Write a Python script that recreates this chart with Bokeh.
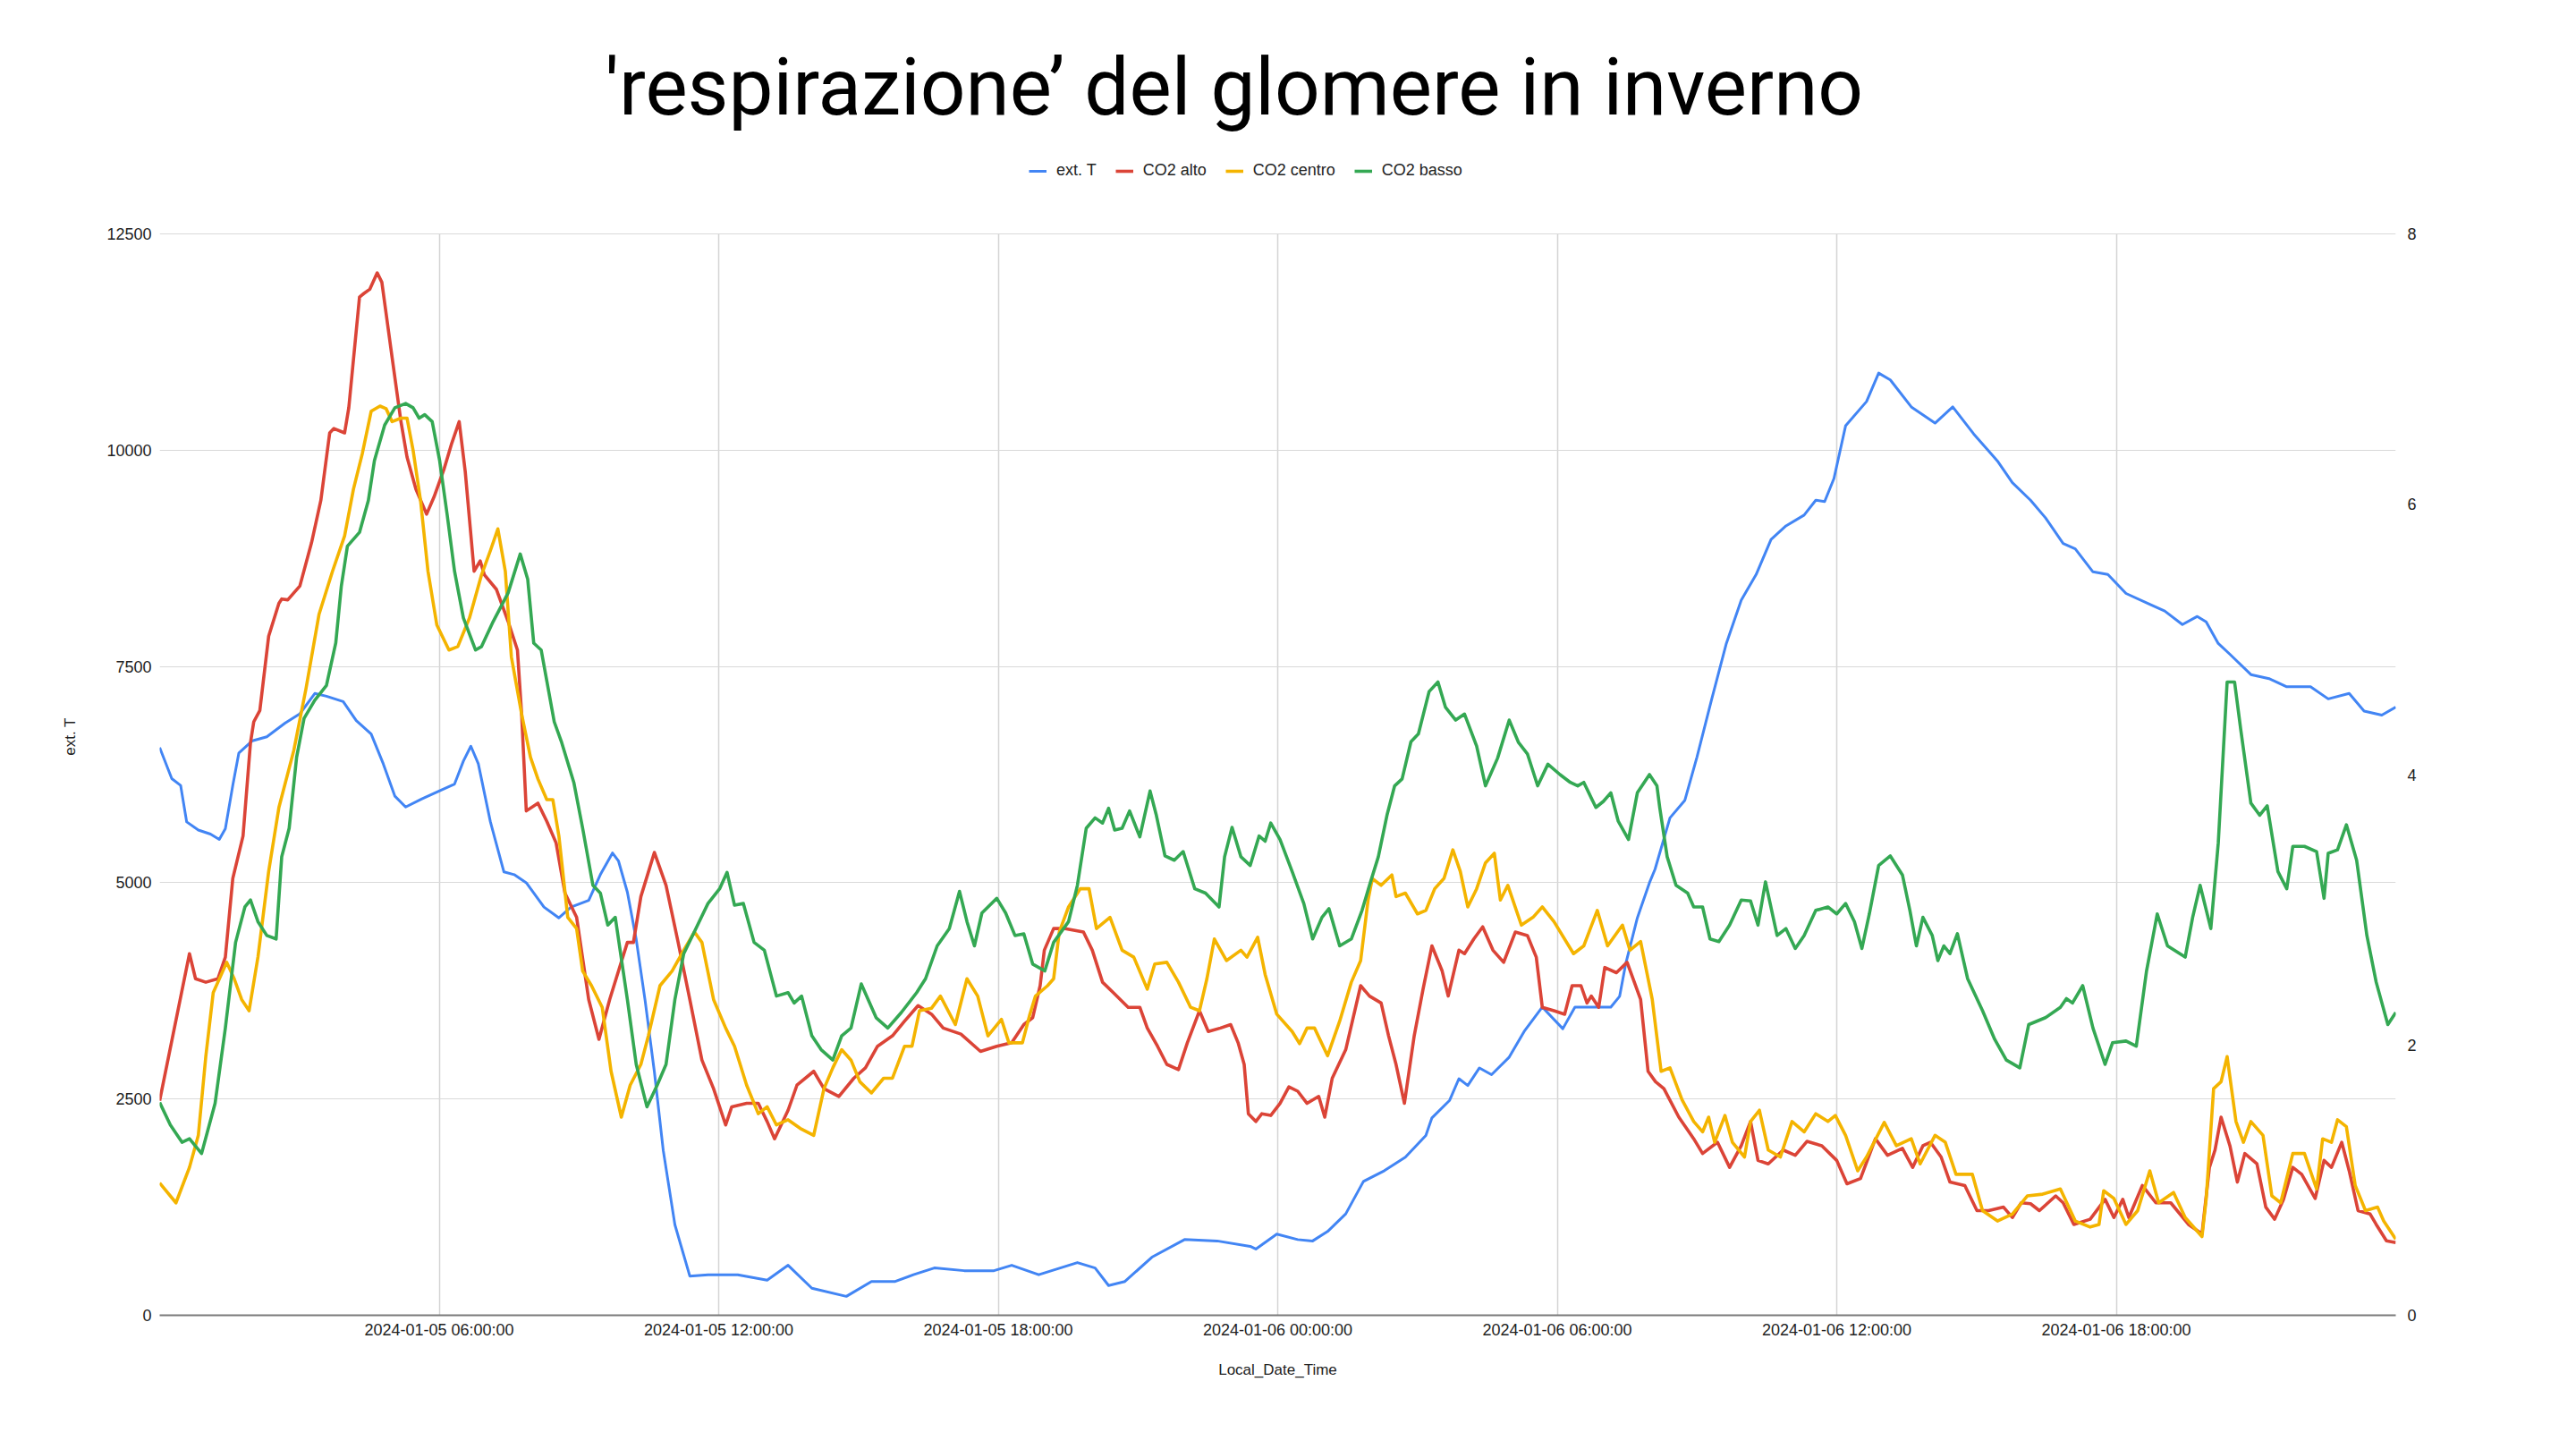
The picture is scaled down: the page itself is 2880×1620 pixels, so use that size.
from bokeh.plotting import figure
from bokeh.models import (Range1d, LinearAxis, FixedTicker, Legend, LegendItem,
                          ColumnDataSource)
from bokeh.embed import file_html
from bokeh.resources import INLINE

TITLE = "'respirazione’ del glomere in inverno"
SERIES = ["ext. T", "CO2 alto", "CO2 centro", "CO2 basso"]
COLORS = ["#4285F4", "#DB4437", "#F4B400", "#34A853"]
X_TITLE = "Local_Date_Time"
Y_TITLE = "ext. T"
X_TICK_HOURS = [6, 12, 18, 24, 30, 36, 42]
X_TICK_LABELS = ["2024-01-05 06:00:00", "2024-01-05 12:00:00", "2024-01-05 18:00:00",
                 "2024-01-06 00:00:00", "2024-01-06 06:00:00", "2024-01-06 12:00:00",
                 "2024-01-06 18:00:00"]
CO2_TICKS = [0, 2500, 5000, 7500, 10000, 12500]
TEMP_TICKS = [0, 2, 4, 6, 8]
CO2_MAX = 12500
TEMP_MAX = 8
HOURS = 48

# (hours since 2024-01-05 00:00, value)
ext_t = [(0.0, 4.20), (0.26, 3.97), (0.45, 3.92), (0.58, 3.65), (0.83, 3.59), (1.09, 3.56),
         (1.28, 3.52), (1.41, 3.60), (1.57, 3.92), (1.70, 4.16), (1.99, 4.25), (2.30, 4.28),
         (2.69, 4.38), (3.01, 4.45), (3.33, 4.60), (3.58, 4.58), (3.94, 4.54), (4.22, 4.40),
         (4.54, 4.30), (4.80, 4.08), (5.05, 3.84), (5.28, 3.76), (5.63, 3.82), (6.01, 3.88),
         (6.33, 3.93), (6.52, 4.10), (6.68, 4.21), (6.84, 4.08), (7.10, 3.65), (7.39, 3.28),
         (7.61, 3.26), (7.87, 3.20), (8.25, 3.02), (8.57, 2.94), (8.83, 3.02), (9.21, 3.07),
         (9.46, 3.26), (9.72, 3.42), (9.85, 3.36), (10.04, 3.13), (10.23, 2.78), (10.42, 2.33),
         (10.62, 1.80), (10.81, 1.22), (11.06, 0.67), (11.38, 0.29), (11.77, 0.30), (12.41, 0.30),
         (13.04, 0.26), (13.49, 0.37), (14.00, 0.20), (14.74, 0.14), (15.28, 0.25), (15.79, 0.25),
         (16.18, 0.30), (16.63, 0.35), (17.27, 0.33), (17.91, 0.33), (18.29, 0.37), (18.87, 0.30),
         (19.70, 0.39), (20.08, 0.35), (20.37, 0.22), (20.72, 0.25), (21.30, 0.43), (22.00, 0.56),
         (22.70, 0.55), (23.41, 0.51), (23.53, 0.49), (23.98, 0.60), (24.43, 0.56), (24.75, 0.55),
         (25.07, 0.62), (25.46, 0.75), (25.84, 0.99), (26.29, 1.07), (26.74, 1.17), (27.18, 1.33),
         (27.31, 1.46), (27.69, 1.59), (27.89, 1.75), (28.08, 1.70), (28.33, 1.83), (28.59, 1.78),
         (28.97, 1.91), (29.29, 2.10), (29.68, 2.28), (30.12, 2.12), (30.38, 2.28), (30.76, 2.28),
         (31.15, 2.28), (31.34, 2.36), (31.47, 2.60), (31.72, 2.94), (31.98, 3.20), (32.10, 3.30),
         (32.42, 3.68), (32.74, 3.81), (33.00, 4.13), (33.31, 4.55), (33.63, 4.97), (33.95, 5.29),
         (34.27, 5.48), (34.59, 5.74), (34.91, 5.84), (35.30, 5.92), (35.55, 6.03), (35.74, 6.02),
         (35.94, 6.19), (36.19, 6.58), (36.64, 6.76), (36.90, 6.97), (37.15, 6.92), (37.60, 6.72),
         (38.11, 6.60), (38.49, 6.72), (38.94, 6.52), (39.45, 6.32), (39.77, 6.16), (40.16, 6.03),
         (40.48, 5.90), (40.86, 5.71), (41.12, 5.67), (41.50, 5.50), (41.82, 5.48), (42.21, 5.34),
         (42.72, 5.26), (43.04, 5.21), (43.42, 5.11), (43.74, 5.17), (43.93, 5.13), (44.19, 4.97),
         (44.44, 4.89), (44.89, 4.74), (45.28, 4.71), (45.66, 4.65), (46.17, 4.65), (46.55, 4.56),
         (47.00, 4.60), (47.32, 4.47), (47.70, 4.44), (48.0, 4.50)]

co2_alto = [(0.0, 2480), (0.64, 4180), (0.77, 3890), (0.99, 3850), (1.25, 3890), (1.41, 4140),
            (1.57, 5050), (1.79, 5540), (1.95, 6620), (2.02, 6860), (2.15, 6990), (2.34, 7850),
            (2.56, 8230), (2.62, 8280), (2.75, 8270), (3.01, 8430), (3.26, 8930), (3.46, 9420),
            (3.65, 10200), (3.74, 10250), (3.97, 10200), (4.06, 10490), (4.29, 11770), (4.38, 11810),
            (4.51, 11860), (4.67, 12050), (4.77, 11940), (4.99, 11070), (5.18, 10330), (5.31, 9920),
            (5.50, 9550), (5.73, 9260), (5.89, 9460), (6.11, 9790), (6.27, 10080), (6.43, 10330),
            (6.56, 9750), (6.75, 8600), (6.88, 8720), (6.97, 8560), (7.23, 8390), (7.48, 8020),
            (7.68, 7690), (7.77, 6950), (7.87, 5830), (8.12, 5920), (8.31, 5710), (8.51, 5460),
            (8.70, 4880), (8.95, 4600), (9.21, 3650), (9.43, 3190), (9.66, 3650), (9.85, 3980),
            (10.04, 4310), (10.17, 4310), (10.33, 4840), (10.62, 5350), (10.87, 4970), (11.13, 4310),
            (11.38, 3650), (11.64, 2950), (11.89, 2620), (12.15, 2200), (12.28, 2410), (12.60, 2450),
            (12.85, 2450), (13.04, 2240), (13.20, 2040), (13.49, 2370), (13.68, 2660), (14.04, 2820),
            (14.26, 2620), (14.58, 2530), (14.90, 2740), (15.15, 2860), (15.41, 3110), (15.73, 3230),
            (15.99, 3400), (16.28, 3580), (16.57, 3480), (16.82, 3320), (17.20, 3250), (17.62, 3050),
            (17.97, 3110), (18.29, 3150), (18.55, 3360), (18.74, 3440), (18.90, 3810), (18.99, 4220),
            (19.19, 4470), (19.44, 4470), (19.83, 4430), (20.02, 4220), (20.24, 3850), (20.47, 3730),
            (20.79, 3560), (21.04, 3560), (21.20, 3320), (21.42, 3110), (21.62, 2900), (21.87, 2840),
            (22.06, 3150), (22.32, 3520), (22.51, 3280), (22.77, 3320), (22.99, 3360), (23.15, 3150),
            (23.28, 2900), (23.37, 2330), (23.53, 2240), (23.66, 2330), (23.85, 2310), (24.05, 2450),
            (24.24, 2640), (24.43, 2590), (24.63, 2450), (24.88, 2530), (25.01, 2290), (25.17, 2740),
            (25.46, 3070), (25.78, 3810), (25.97, 3690), (26.22, 3610), (26.38, 3230), (26.54, 2900),
            (26.72, 2450), (26.93, 3230), (27.12, 3770), (27.31, 4270), (27.53, 3980), (27.66, 3690),
            (27.89, 4220), (28.01, 4180), (28.21, 4350), (28.40, 4490), (28.62, 4220), (28.85, 4080),
            (29.10, 4430), (29.36, 4390), (29.55, 4140), (29.68, 3560), (29.93, 3520), (30.16, 3480),
            (30.32, 3810), (30.51, 3810), (30.64, 3610), (30.73, 3690), (30.89, 3560), (31.02, 4020),
            (31.27, 3960), (31.50, 4080), (31.79, 3650), (31.95, 2820), (32.11, 2700), (32.29, 2620),
            (32.61, 2290), (32.93, 2040), (33.12, 1870), (33.44, 2000), (33.70, 1710), (33.95, 1960),
            (34.15, 2240), (34.31, 1790), (34.53, 1750), (34.85, 1910), (35.11, 1850), (35.36, 2010),
            (35.68, 1960), (36.00, 1790), (36.22, 1520), (36.51, 1580), (36.83, 2040), (37.09, 1850),
            (37.41, 1930), (37.63, 1710), (37.85, 1960), (38.01, 2000), (38.24, 1830), (38.43, 1540),
            (38.75, 1500), (39.01, 1210), (39.26, 1210), (39.58, 1250), (39.77, 1130), (39.96, 1300),
            (40.16, 1290), (40.35, 1210), (40.70, 1380), (40.86, 1300), (41.09, 1050), (41.44, 1110),
            (41.76, 1340), (41.95, 1130), (42.14, 1340), (42.27, 1130), (42.56, 1500), (42.85, 1300),
            (43.17, 1300), (43.55, 1050), (43.84, 940), (44.00, 1710), (44.12, 1910), (44.25, 2290),
            (44.44, 1960), (44.60, 1540), (44.76, 1870), (45.02, 1750), (45.21, 1250), (45.40, 1110),
            (45.59, 1340), (45.79, 1710), (45.98, 1630), (46.27, 1350), (46.46, 1790), (46.62, 1710),
            (46.84, 2000), (47.00, 1670), (47.19, 1210), (47.45, 1170), (47.58, 1050), (47.80, 860),
            (48.0, 840)]

co2_centro = [(0.0, 1530), (0.35, 1300), (0.64, 1710), (0.83, 2080), (0.99, 2990), (1.15, 3730),
              (1.44, 4080), (1.60, 3890), (1.76, 3650), (1.92, 3520), (2.11, 4140), (2.34, 5130),
              (2.56, 5870), (2.88, 6530), (3.14, 7240), (3.42, 8100), (3.71, 8600), (3.97, 9010),
              (4.16, 9550), (4.35, 9960), (4.54, 10450), (4.73, 10510), (4.86, 10480), (4.99, 10330),
              (5.18, 10370), (5.31, 10370), (5.44, 10000), (5.60, 9420), (5.76, 8600), (5.95, 7980),
              (6.21, 7690), (6.40, 7730), (6.65, 8060), (6.91, 8560), (7.10, 8840), (7.26, 9090),
              (7.42, 8600), (7.55, 7610), (7.77, 6950), (7.96, 6450), (8.12, 6200), (8.31, 5960),
              (8.44, 5960), (8.57, 5540), (8.76, 4600), (8.95, 4470), (9.08, 3980), (9.27, 3810),
              (9.50, 3560), (9.69, 2820), (9.91, 2290), (10.10, 2660), (10.33, 2900), (10.49, 3230),
              (10.74, 3810), (11.00, 3980), (11.25, 4220), (11.48, 4430), (11.64, 4310), (11.89, 3650),
              (12.15, 3320), (12.34, 3110), (12.60, 2660), (12.85, 2330), (13.04, 2410), (13.24, 2200),
              (13.49, 2260), (13.75, 2160), (14.04, 2080), (14.26, 2620), (14.45, 2860), (14.64, 3070),
              (14.84, 2950), (15.03, 2700), (15.28, 2570), (15.54, 2740), (15.73, 2740), (15.99, 3110),
              (16.15, 3110), (16.31, 3520), (16.57, 3550), (16.76, 3690), (17.08, 3360), (17.33, 3890),
              (17.56, 3690), (17.78, 3230), (18.07, 3420), (18.23, 3150), (18.52, 3150), (18.68, 3480),
              (18.80, 3690), (19.06, 3810), (19.19, 3890), (19.31, 4430), (19.51, 4720), (19.76, 4930),
              (19.95, 4930), (20.11, 4470), (20.40, 4600), (20.66, 4220), (20.91, 4140), (21.20, 3770),
              (21.36, 4060), (21.62, 4080), (21.87, 3850), (22.13, 3560), (22.32, 3520), (22.48, 3890),
              (22.64, 4350), (22.90, 4100), (23.21, 4220), (23.34, 4140), (23.57, 4370), (23.73, 3940),
              (23.98, 3480), (24.31, 3280), (24.47, 3140), (24.63, 3320), (24.79, 3320), (25.07, 3000),
              (25.33, 3400), (25.58, 3850), (25.78, 4100), (25.94, 4800), (26.03, 5050), (26.22, 4970),
              (26.45, 5090), (26.54, 4840), (26.74, 4880), (27.00, 4640), (27.18, 4680), (27.37, 4930),
              (27.57, 5050), (27.76, 5380), (27.92, 5130), (28.08, 4720), (28.27, 4930), (28.46, 5230),
              (28.65, 5340), (28.78, 4800), (28.94, 4970), (29.23, 4510), (29.48, 4600), (29.68, 4720),
              (29.93, 4550), (30.35, 4180), (30.57, 4270), (30.86, 4680), (31.08, 4270), (31.40, 4510),
              (31.56, 4220), (31.79, 4320), (32.04, 3650), (32.23, 2820), (32.42, 2860), (32.68, 2490),
              (32.93, 2240), (33.12, 2120), (33.25, 2290), (33.38, 2000), (33.60, 2310), (33.76, 2000),
              (34.02, 1830), (34.15, 2240), (34.34, 2370), (34.53, 1910), (34.79, 1830), (35.04, 2240),
              (35.30, 2120), (35.55, 2330), (35.81, 2240), (35.97, 2310), (36.19, 2080), (36.45, 1670),
              (36.64, 1830), (37.02, 2230), (37.28, 1960), (37.60, 2040), (37.79, 1750), (38.11, 2080),
              (38.33, 2000), (38.56, 1630), (38.91, 1630), (39.13, 1210), (39.45, 1090), (39.77, 1170),
              (40.09, 1380), (40.42, 1400), (40.80, 1460), (41.12, 1090), (41.44, 1020), (41.63, 1050),
              (41.73, 1440), (41.95, 1350), (42.21, 1050), (42.46, 1210), (42.72, 1670), (42.91, 1300),
              (43.23, 1420), (43.48, 1130), (43.84, 910), (43.93, 1340), (44.09, 2620), (44.25, 2700),
              (44.38, 2990), (44.57, 2240), (44.73, 2000), (44.89, 2240), (45.15, 2080), (45.34, 1380),
              (45.53, 1300), (45.79, 1870), (46.04, 1870), (46.30, 1460), (46.43, 2040), (46.62, 2000),
              (46.75, 2260), (46.94, 2180), (47.13, 1500), (47.35, 1210), (47.61, 1250), (47.74, 1090),
              (48.0, 880)]

co2_basso = [(0.0, 2460), (0.23, 2200), (0.48, 2000), (0.64, 2040), (0.90, 1870), (1.19, 2450),
             (1.41, 3320), (1.63, 4310), (1.83, 4720), (1.95, 4800), (2.11, 4550), (2.30, 4390),
             (2.50, 4350), (2.62, 5300), (2.78, 5630), (2.94, 6450), (3.10, 6900), (3.33, 7110),
             (3.58, 7280), (3.78, 7770), (3.90, 8430), (4.03, 8890), (4.29, 9050), (4.48, 9420),
             (4.61, 9880), (4.83, 10290), (5.05, 10490), (5.28, 10540), (5.44, 10490), (5.57, 10370),
             (5.69, 10410), (5.85, 10330), (6.01, 9880), (6.17, 9260), (6.33, 8600), (6.52, 8060),
             (6.78, 7690), (6.91, 7730), (7.16, 8020), (7.48, 8350), (7.74, 8800), (7.90, 8510),
             (8.03, 7770), (8.19, 7690), (8.47, 6860), (8.63, 6620), (8.89, 6160), (9.08, 5630),
             (9.30, 4970), (9.46, 4880), (9.62, 4510), (9.78, 4600), (10.04, 3650), (10.23, 2900),
             (10.46, 2410), (10.68, 2660), (10.87, 2900), (11.06, 3650), (11.25, 4180), (11.51, 4470),
             (11.77, 4760), (12.02, 4930), (12.18, 5120), (12.34, 4740), (12.53, 4760), (12.76, 4310),
             (12.98, 4220), (13.24, 3690), (13.49, 3730), (13.62, 3610), (13.78, 3690), (14.00, 3230),
             (14.20, 3070), (14.45, 2950), (14.64, 3230), (14.84, 3320), (15.06, 3830), (15.38, 3440),
             (15.63, 3320), (15.92, 3500), (16.25, 3730), (16.44, 3890), (16.69, 4270), (16.95, 4470),
             (17.17, 4900), (17.33, 4550), (17.49, 4270), (17.65, 4650), (17.97, 4820), (18.16, 4650),
             (18.36, 4390), (18.55, 4410), (18.74, 4060), (19.00, 3980), (19.19, 4310), (19.51, 4550),
             (19.70, 4970), (19.89, 5630), (20.08, 5750), (20.24, 5690), (20.37, 5860), (20.50, 5610),
             (20.66, 5630), (20.82, 5830), (21.04, 5530), (21.26, 6060), (21.39, 5790), (21.58, 5310),
             (21.78, 5260), (21.97, 5360), (22.22, 4930), (22.45, 4880), (22.74, 4720), (22.86, 5300),
             (23.02, 5640), (23.21, 5300), (23.41, 5200), (23.60, 5540), (23.73, 5480), (23.85, 5690),
             (24.05, 5500), (24.31, 5130), (24.56, 4760), (24.75, 4350), (24.95, 4600), (25.10, 4700),
             (25.33, 4270), (25.58, 4350), (25.81, 4680), (25.97, 4970), (26.16, 5300), (26.35, 5790),
             (26.51, 6120), (26.67, 6200), (26.86, 6630), (27.02, 6720), (27.25, 7210), (27.44, 7320),
             (27.60, 7030), (27.82, 6880), (28.01, 6950), (28.27, 6580), (28.46, 6120), (28.72, 6440),
             (28.97, 6880), (29.17, 6620), (29.36, 6490), (29.58, 6120), (29.80, 6370), (30.06, 6250),
             (30.28, 6160), (30.44, 6120), (30.57, 6160), (30.83, 5870), (30.99, 5940), (31.15, 6040),
             (31.31, 5710), (31.53, 5500), (31.72, 6040), (31.98, 6250), (32.14, 6120), (32.20, 5870),
             (32.36, 5300), (32.55, 4970), (32.80, 4880), (32.93, 4720), (33.12, 4720), (33.28, 4350),
             (33.47, 4320), (33.70, 4510), (33.95, 4800), (34.15, 4790), (34.31, 4510), (34.47, 5010),
             (34.72, 4390), (34.91, 4470), (35.11, 4240), (35.30, 4390), (35.55, 4680), (35.81, 4720),
             (36.00, 4640), (36.19, 4760), (36.38, 4550), (36.54, 4240), (36.70, 4640), (36.90, 5200),
             (37.15, 5310), (37.41, 5090), (37.57, 4680), (37.71, 4270), (37.85, 4600), (38.05, 4390),
             (38.17, 4100), (38.30, 4270), (38.43, 4180), (38.59, 4410), (38.81, 3890), (39.13, 3520),
             (39.39, 3190), (39.64, 2950), (39.93, 2860), (40.12, 3360), (40.48, 3440), (40.80, 3560),
             (40.93, 3660), (41.06, 3610), (41.28, 3810), (41.50, 3320), (41.76, 2900), (41.92, 3150),
             (42.21, 3170), (42.43, 3110), (42.65, 3980), (42.88, 4640), (43.10, 4270), (43.48, 4140),
             (43.64, 4600), (43.80, 4970), (44.03, 4470), (44.19, 5460), (44.38, 7320), (44.54, 7320),
             (44.67, 6780), (44.89, 5920), (45.08, 5780), (45.24, 5890), (45.47, 5130), (45.66, 4930),
             (45.79, 5420), (46.04, 5420), (46.30, 5360), (46.46, 4820), (46.55, 5340), (46.75, 5380),
             (46.94, 5670), (47.16, 5260), (47.38, 4390), (47.58, 3850), (47.83, 3360), (48.0, 3500)]

FONT = "Liberation Sans"
TEXT = "#222222"

# layout (pixels): frame spans 176..1470 vertically, the data area 261..1470
FRAME_TOP, PLOT_TOP, PLOT_BOTTOM = 176, 261, 1470
TITLE_BOTTOM = 149.5
stretch = (PLOT_BOTTOM - FRAME_TOP) / (PLOT_BOTTOM - PLOT_TOP)

p = figure(width=2880, height=1620, output_backend="svg", toolbar_location=None,
           x_range=Range1d(0, HOURS), y_range=Range1d(0, CO2_MAX * stretch),
           min_border_left=178, min_border_right=202, min_border_top=FRAME_TOP,
           min_border_bottom=1620 - PLOT_BOTTOM, outline_line_color=None,
           background_fill_color="white", border_fill_color="white")
p.extra_y_ranges = {"temp": Range1d(0, TEMP_MAX * stretch)}

# title
p.title.text = TITLE
p.title.text_font = "Roboto"
p.title.text_font_size = "89px"
p.title.text_font_style = "normal"
p.title.text_color = "#000000"
p.title.align = "left"
p.title.offset = 498
p.title.standoff = 2 * (FRAME_TOP - TITLE_BOTTOM)

# axes
xa = p.xaxis[0]
xa.ticker = FixedTicker(ticks=X_TICK_HOURS)
xa.major_label_overrides = dict(zip(X_TICK_HOURS, X_TICK_LABELS))
xa.axis_label = X_TITLE
ya = p.yaxis[0]
ya.ticker = FixedTicker(ticks=CO2_TICKS)
ya.bounds = (0, CO2_MAX)
ya.axis_label = Y_TITLE
ra = LinearAxis(y_range_name="temp", ticker=FixedTicker(ticks=TEMP_TICKS),
                bounds=(0, TEMP_MAX))
p.add_layout(ra, "right")

for ax in (xa, ya, ra):
    ax.major_tick_line_color = None
    ax.minor_tick_line_color = None
    ax.major_tick_out = 0
    ax.major_tick_in = 0
    ax.major_label_text_font = FONT
    ax.major_label_text_font_size = "18px"
    ax.major_label_text_color = TEXT
    ax.axis_label_text_font = FONT
    ax.axis_label_text_font_size = "17px"
    ax.axis_label_text_font_style = "normal"
    ax.axis_label_text_color = TEXT
xa.axis_line_color = "#7a7a7a"
xa.axis_line_width = 2
xa.major_label_standoff = 6
xa.axis_label_standoff = 22
ya.axis_line_color = None
ya.major_label_standoff = 9
ya.axis_label_standoff = 28
ra.axis_line_color = None
ra.major_label_standoff = 13

p.ygrid.grid_line_color = "#d9d9d9"
p.ygrid.grid_line_width = 1.2
xg = p.xgrid[0]
if "cross_bounds" in xg.properties():
    xg.cross_bounds = (0, CO2_MAX)
    xg.grid_line_color = "#d4d4d4"
    xg.grid_line_width = 1.5
else:
    xg.visible = False
    p.segment(x0=X_TICK_HOURS, y0=[0] * len(X_TICK_HOURS), x1=X_TICK_HOURS,
              y1=[CO2_MAX] * len(X_TICK_HOURS), line_color="#d4d4d4", line_width=1.5,
              level="underlay")

# series
data = [ext_t, co2_alto, co2_centro, co2_basso]
items = []
for i, (name, color, pts) in enumerate(zip(SERIES, COLORS, data)):
    hrs, vals = zip(*pts)
    src = ColumnDataSource(dict(h=list(hrs), v=list(vals)))
    kw = dict(y_range_name="temp") if i == 0 else {}
    r = p.line("h", "v", source=src, line_color=color,
               line_width=3 if i == 0 else 3.6, line_join="round", **kw)
    items.append(LegendItem(label=name, renderers=[r]))

legend = Legend(items=items, orientation="horizontal", location=(972, 1269),
                border_line_color=None, background_fill_alpha=0, padding=0, margin=0,
                spacing=21, glyph_width=20, glyph_height=20, label_standoff=11,
                label_height=20, label_text_font=FONT, label_text_font_size="18px",
                label_text_color=TEXT)
p.add_layout(legend)

open("out.html", "w").write(file_html(p, INLINE))
